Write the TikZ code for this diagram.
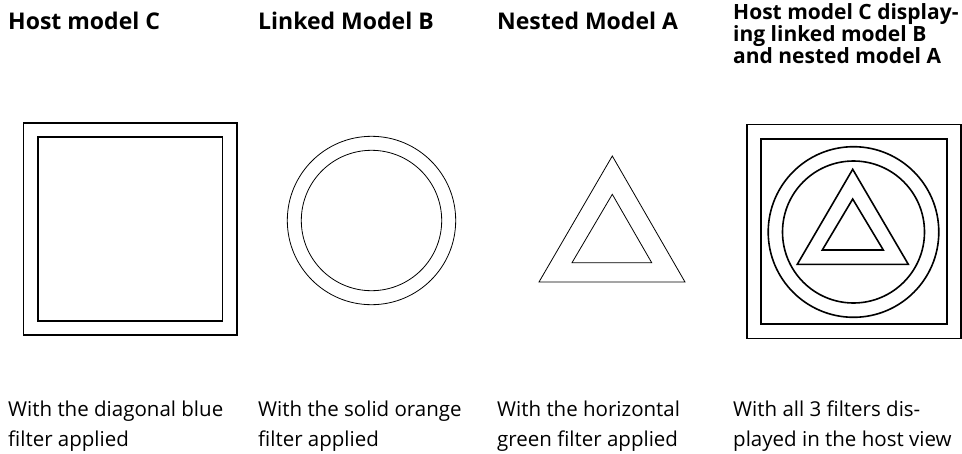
\documentclass[tikz,border=0pt]{standalone}
\usepackage{fontspec}
\setmainfont{Open Sans}
\usetikzlibrary{positioning}

\begin{document}
\begin{tikzpicture}[x=1pt, y=-1pt,
  head/.style={font=\fontsize{23}{24}\selectfont\bfseries, anchor=base west,
    inner sep=0pt, align=left},
  subhead/.style={font=\fontsize{21}{17.5}\selectfont\bfseries, anchor=base west,
    inner sep=0pt, align=left},
  note/.style={font=\fontsize{20.5}{30}\selectfont, anchor=base west,
    inner sep=0pt, align=left},
  heavy/.style={line width=1.6pt},
  fine/.style={line width=0.8pt}]
\useasboundingbox (0,0) rectangle (962,453);
% headings (base = last line)
\node[head] (headC) at (8,29.3) {Host model C};
\node[head] (headB) at (258,29.3) {Linked Model B};
\node[head] (headA) at (497,29.3) {Nested Model A};
\node[subhead] (headAll) at (733,63) {Host model C display-\\ing linked model B\\and nested model A};
% host model C
\draw[heavy] (23.5,122.7) rectangle (237,335);
\draw[heavy] (38,136.7) rectangle (222.3,320.7);
% linked model B
\draw[fine] (371.5,220.5) circle[radius=84.2];
\draw[fine] (371.5,220.5) circle[radius=70.2];
% nested model A
\draw[fine] (612.3,156) -- (539,282) -- (685,282) -- cycle;
\draw[fine] (612.3,194.3) -- (572,262.7) -- (651.7,262.7) -- cycle;
% all three in the host view
\draw[heavy] (746.7,124.3) rectangle (961,338.3);
\draw[heavy] (760.7,139) rectangle (947,324);
\draw[heavy] (853.5,232) circle[radius=85.3];
\draw[heavy] (853.5,232) circle[radius=71];
\draw[heavy] (852.7,169.3) -- (797.3,264.3) -- (908.3,264.3) -- cycle;
\draw[heavy] (852.7,199) -- (822.3,250) -- (883.3,250) -- cycle;
% notes (base = last line)
\node[note] (noteC) at (8,446.7) {With the diagonal blue\\filter applied};
\node[note] (noteB) at (258,446.7) {With the solid orange\\filter applied};
\node[note] (noteA) at (497,446.7) {With the horizontal\\green filter applied};
\node[note] (noteAll) at (733,446.7) {With all 3 filters dis-\\played in the host view};
\end{tikzpicture}
\end{document}
